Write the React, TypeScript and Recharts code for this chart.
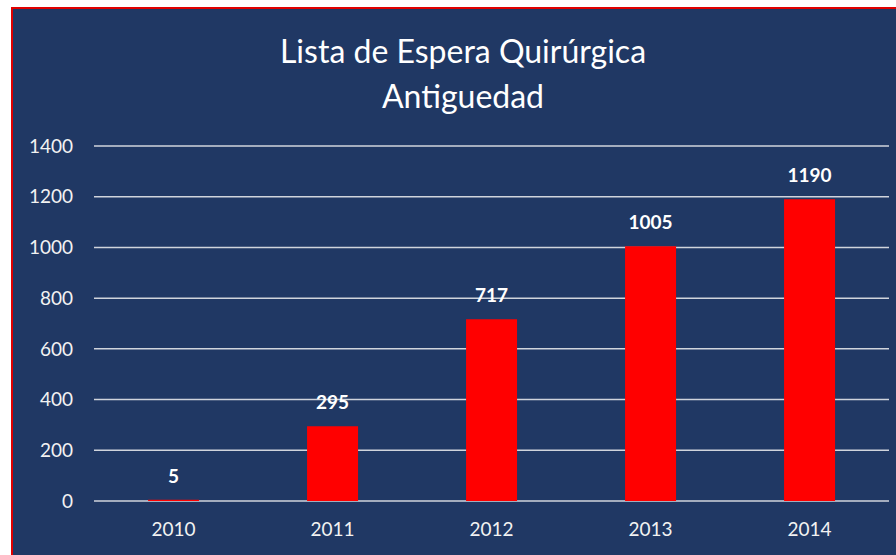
import { BarChart, Bar, XAxis, YAxis, CartesianGrid, LabelList } from 'recharts';

const years = ['2010', '2011', '2012', '2013', '2014'];
const pacientes = [5, 295, 717, 1005, 1190];
const yTicks = [0, 200, 400, 600, 800, 1000, 1200, 1400];

const data = years.map((year, i) => ({ year, value: pacientes[i] }));

const NAVY = '#203864';
const FONT = 'Lato, "Open Sans", sans-serif';

export default function App() {
  return (
    <div
      style={{
        position: 'fixed',
        left: 11,
        top: 7,
        width: 883,
        height: 546,
        borderLeft: '2px solid #e00000',
        borderTop: '2px solid #e00000',
        background: NAVY,
        fontFamily: FONT,
      }}
    >
      <div
        style={{
          position: 'absolute',
          left: 0,
          width: 900,
          top: 19,
          textAlign: 'center',
          color: '#ffffff',
          fontSize: 32,
          lineHeight: '45px',
        }}
      >
        <div>Lista de Espera Quirúrgica</div>
        <div>Antiguedad</div>
      </div>
      <BarChart
        width={883}
        height={546}
        data={data}
        margin={{ top: 137, right: 7, left: 0, bottom: 0 }}
        barCategoryGap="34%"
      >
        <CartesianGrid vertical={false} stroke="#d0d4dc" strokeWidth={1.5} />
        <XAxis
          dataKey="year"
          axisLine={false}
          tickLine={false}
          height={54}
          tickMargin={16}
          tick={{ fill: '#f2f2f2', fontSize: 19, fontFamily: FONT }}
        />
        <YAxis
          domain={[0, 1400]}
          ticks={yTicks}
          axisLine={false}
          tickLine={false}
          width={81}
          tickMargin={15}
          tick={{ fill: '#f2f2f2', fontSize: 19, fontFamily: FONT }}
        />
        <Bar dataKey="value" fill="#ff0000" isAnimationActive={false}>
          <LabelList
            dataKey="value"
            position="top"
            offset={17}
            fill="#ffffff"
            fontSize={19}
            fontWeight="bold"
            fontFamily={FONT}
          />
        </Bar>
      </BarChart>
    </div>
  );
}
